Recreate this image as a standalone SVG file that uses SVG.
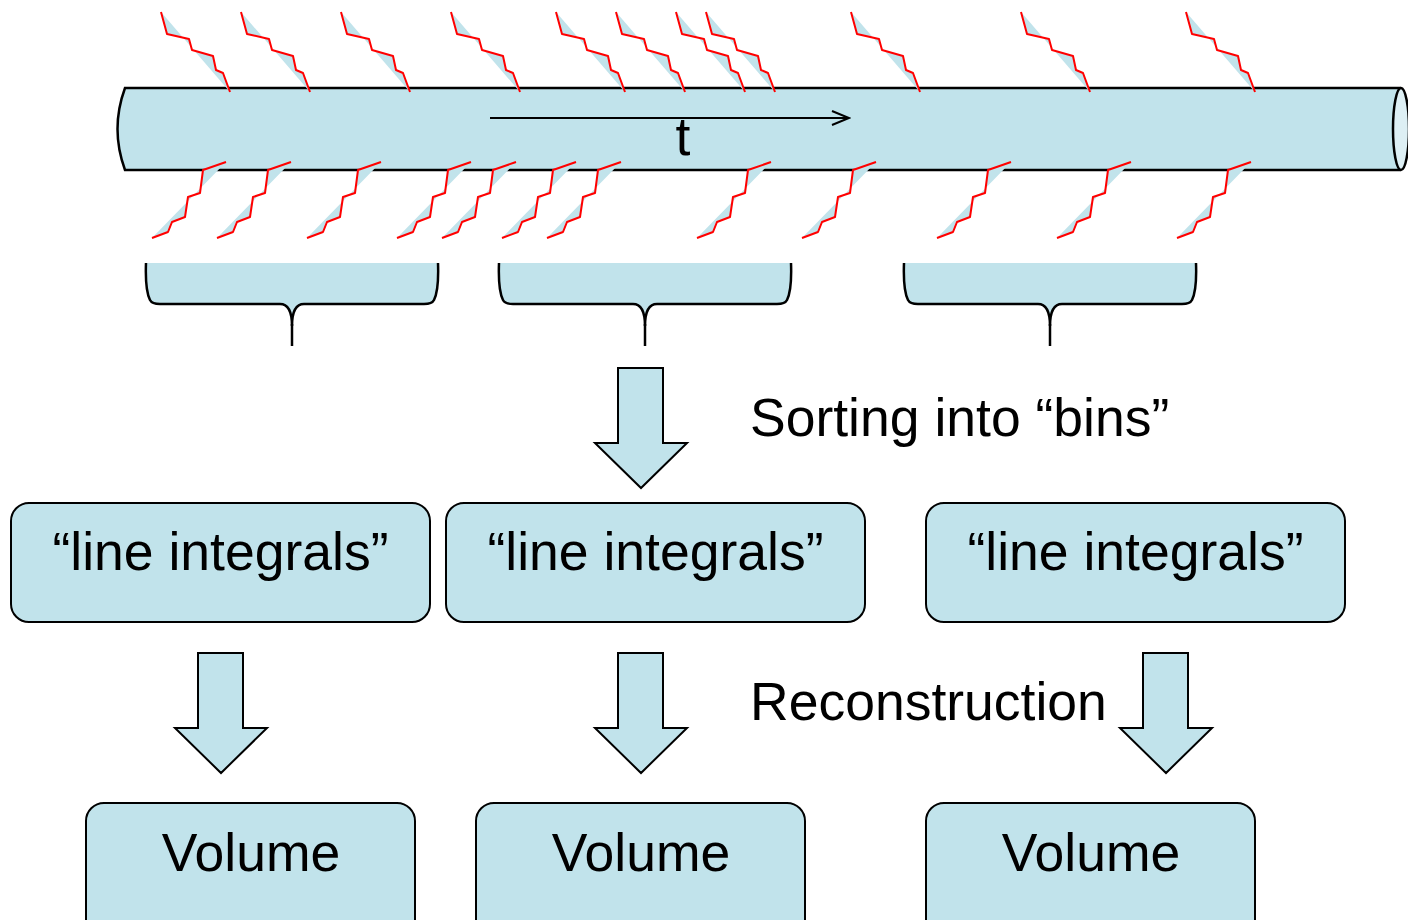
<svg xmlns="http://www.w3.org/2000/svg" xmlns:xlink="http://www.w3.org/1999/xlink" width="1408" height="920" viewBox="0 0 1408 920">
<style>
.fill{fill:#c1e3eb;stroke:#000;stroke-width:2.5}
.ray{fill:none;stroke:#ff0000;stroke-width:2;stroke-linejoin:round}
.shade{fill:#c1e3eb;stroke:none}
.box{fill:#c1e3eb;stroke:#000;stroke-width:2}
.txt{font-family:"Liberation Sans",Arial,sans-serif;font-size:53.5px;fill:#000}
.mid{text-anchor:middle}
</style>
<defs>
<g id="rayT">
<path class="shade" d="M0,0 L6,22 L28,27 L31,38 L52,44 L55,58 L62,61 L69,80 Z"/>
<path class="ray" d="M0,0 L6,22 L28,27 L31,38 L52,44 L55,58 L62,61 L69,80"/>
</g>
<g id="rayB">
<path class="shade" d="M0,0 L16,-6 L20,-16 L33,-21 L36,-41 L48,-45 L51,-68 L74,-76 Z"/>
<path class="ray" d="M0,0 L16,-6 L20,-16 L33,-21 L36,-41 L48,-45 L51,-68 L74,-76"/>
</g>
<marker id="openArrow" markerWidth="20" markerHeight="16" refX="18" refY="8" orient="auto" markerUnits="userSpaceOnUse">
<path d="M1,1 L18,8 L1,15" fill="none" stroke="#000" stroke-width="2"/>
</marker>
</defs>

<g id="cylinder">
<path d="M125,88 L1401,88 L1401,170 L125,170 Q110,129 125,88 Z" fill="#c1e3eb" stroke="none"/>
<path d="M1401,88 L125,88 Q110,129 125,170 L1401,170" fill="none" stroke="#000" stroke-width="2.5"/>
<ellipse cx="1401" cy="129" rx="8" ry="41" fill="#ddeff4" stroke="#000" stroke-width="2.5"/>
<line x1="490" y1="118" x2="849" y2="118" stroke="#000" stroke-width="2" marker-end="url(#openArrow)"/>
<text class="txt mid" x="683" y="155">t</text>
</g>

<g id="rays-top">
<use xlink:href="#rayT" x="161" y="12"/>
<use xlink:href="#rayT" x="241" y="12"/>
<use xlink:href="#rayT" x="341" y="12"/>
<use xlink:href="#rayT" x="451" y="12"/>
<use xlink:href="#rayT" x="556" y="12"/>
<use xlink:href="#rayT" x="616" y="12"/>
<use xlink:href="#rayT" x="676" y="12"/>
<use xlink:href="#rayT" x="706" y="12"/>
<use xlink:href="#rayT" x="851" y="12"/>
<use xlink:href="#rayT" x="1021" y="12"/>
<use xlink:href="#rayT" x="1186" y="12"/>
</g>

<g id="rays-bottom">
<use xlink:href="#rayB" x="152" y="238"/>
<use xlink:href="#rayB" x="217" y="238"/>
<use xlink:href="#rayB" x="307" y="238"/>
<use xlink:href="#rayB" x="397" y="238"/>
<use xlink:href="#rayB" x="442" y="238"/>
<use xlink:href="#rayB" x="502" y="238"/>
<use xlink:href="#rayB" x="547" y="238"/>
<use xlink:href="#rayB" x="697" y="238"/>
<use xlink:href="#rayB" x="802" y="238"/>
<use xlink:href="#rayB" x="937" y="238"/>
<use xlink:href="#rayB" x="1057" y="238"/>
<use xlink:href="#rayB" x="1177" y="238"/>
</g>

<g id="bin1">
<path class="fill" d="M146,263 Q145,290 150,300 Q152,304 160,304 L280,304 Q292,304 292,326 Q292,304 304,304 L424,304 Q432,304 434,300 Q439,290 438,263"/>
<line x1="292" y1="324" x2="292" y2="346" stroke="#000" stroke-width="2.5"/>
</g>
<g id="bin2">
<path class="fill" d="M499,263 Q498,290 503,300 Q505,304 513,304 L633,304 Q645,304 645,326 Q645,304 657,304 L777,304 Q785,304 787,300 Q792,290 791,263"/>
<line x1="645" y1="324" x2="645" y2="346" stroke="#000" stroke-width="2.5"/>
</g>
<g id="bin3">
<path class="fill" d="M904,263 Q903,290 908,300 Q910,304 918,304 L1038,304 Q1050,304 1050,326 Q1050,304 1062,304 L1182,304 Q1190,304 1192,300 Q1197,290 1196,263"/>
<line x1="1050" y1="324" x2="1050" y2="346" stroke="#000" stroke-width="2.5"/>
</g>

<g id="connectors">
<polygon class="box" points="618,368 663,368 663,443 687,443 641,488 595,443 618,443"/>
<polygon class="box" points="198,653 243,653 243,728 267,728 221,773 175,728 198,728"/>
<polygon class="box" points="618,653 663,653 663,728 687,728 641,773 595,728 618,728"/>
<polygon class="box" points="1143,653 1188,653 1188,728 1212,728 1166,773 1120,728 1143,728"/>
</g>

<g id="label-sorting">
<text class="txt" x="750" y="436">Sorting into “bins”</text>
</g>
<g id="label-reconstruction">
<text class="txt" x="750" y="720">Reconstruction</text>
</g>

<g id="li1">
<rect class="box" x="11" y="503" width="419" height="119" rx="18"/>
<text class="txt mid" x="220.500" y="570">“line integrals”</text>
</g>
<g id="li2">
<rect class="box" x="446" y="503" width="419" height="119" rx="18"/>
<text class="txt mid" x="655.500" y="570">“line integrals”</text>
</g>
<g id="li3">
<rect class="box" x="926" y="503" width="419" height="119" rx="18"/>
<text class="txt mid" x="1135.500" y="570">“line integrals”</text>
</g>

<g id="vol1">
<rect class="box" x="86" y="803" width="329" height="140" rx="18"/>
<text class="txt mid" x="251" y="871">Volume</text>
</g>
<g id="vol2">
<rect class="box" x="476" y="803" width="329" height="140" rx="18"/>
<text class="txt mid" x="641" y="871">Volume</text>
</g>
<g id="vol3">
<rect class="box" x="926" y="803" width="329" height="140" rx="18"/>
<text class="txt mid" x="1091" y="871">Volume</text>
</g>
</svg>
